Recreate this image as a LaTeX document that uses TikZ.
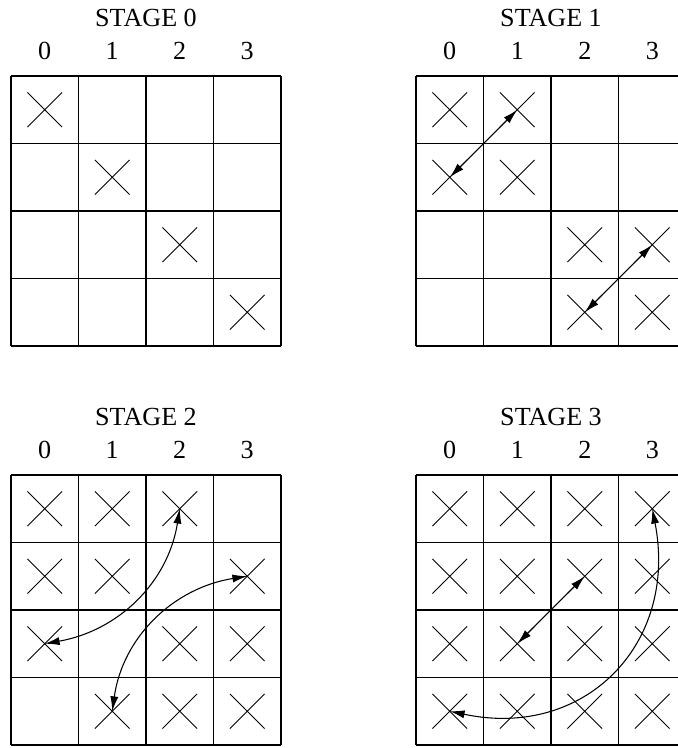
\documentclass[tikz,border=0pt]{standalone}
\usepackage{fontspec}
\setmainfont{Liberation Serif}
\usetikzlibrary{arrows.meta, shapes.misc}

\begin{document}
\begin{tikzpicture}[
    >={Latex[length=2.2mm,width=1.2mm]},
    every node/.append style={font=\fontsize{11pt}{13pt}\selectfont},
    gridline/.style={line width=0.55pt},
    xmark/.style={cross out, draw, line width=0.4pt, minimum size=0.5cm,
                  inner sep=0pt},
    stagename/.style={anchor=base},
    colnum/.style={anchor=base},
    exchange/.style={<->, line width=0.45pt},
  ]
  \useasboundingbox (-0.163,1.126) rectangle (9.881,-9.955);

  % grids, titles and column numbers
  \foreach \s/\dx/\dy in {0/0/0, 1/6/0, 2/0/-5.91, 3/6/-5.91} {
    \begin{scope}[shift={(\dx,\dy)}]
      \draw[gridline] (0,0) grid (4,-4);
      \node[stagename] (name\s) at (2,0.733) {STAGE \s};
      \foreach \c in {0,...,3}
        \node[colnum] (num\s-\c) at ({\c+0.5},0.244) {\c};
    \end{scope}
  }

  % crossed cells
  \begin{scope}
    \foreach \r/\c in {0/0,1/1,2/2,3/3}
      \node[xmark] (s0-\r-\c) at ({\c+0.5},{-\r-0.5}) {};
  \end{scope}
  \begin{scope}[shift={(6,0)}]
    \foreach \r/\c in {0/0,0/1,1/0,1/1,2/2,2/3,3/2,3/3}
      \node[xmark] (s1-\r-\c) at ({\c+0.5},{-\r-0.5}) {};
  \end{scope}
  \begin{scope}[shift={(0,-5.91)}]
    \foreach \r/\c in {0/0,0/1,0/2,1/0,1/1,1/3,2/0,2/2,2/3,3/1,3/2,3/3}
      \node[xmark] (s2-\r-\c) at ({\c+0.5},{-\r-0.5}) {};
  \end{scope}
  \begin{scope}[shift={(6,-5.91)}]
    \foreach \r in {0,...,3}
      \foreach \c in {0,...,3}
        \node[xmark] (s3-\r-\c) at ({\c+0.5},{-\r-0.5}) {};
  \end{scope}

  % exchanges
  \draw[exchange] (s1-0-1.center) -- (s1-1-0.center);
  \draw[exchange] (s1-2-3.center) -- (s1-3-2.center);
  \draw[exchange] (s2-0-2.center) to[out=-99,in=10] (s2-2-0.center);
  \draw[exchange] (s2-1-3.center) to[out=189,in=82] (s2-3-1.center);
  \draw[exchange] (s3-1-2.center) -- (s3-2-1.center);
  \draw[exchange] (s3-0-3.center) to[out=-79,in=-12,looseness=1.23] (s3-3-0.center);
\end{tikzpicture}
\end{document}
